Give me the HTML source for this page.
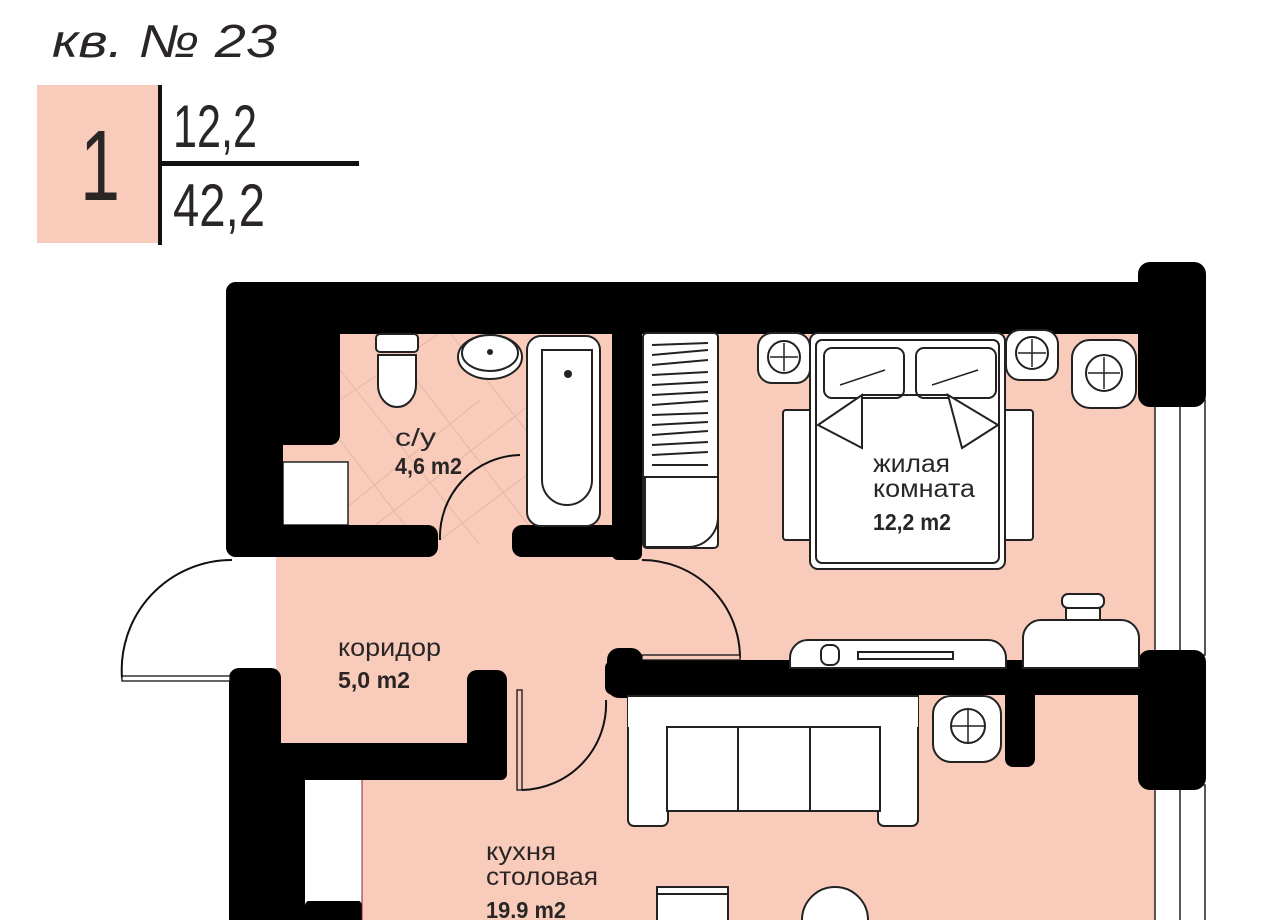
<!DOCTYPE html>
<html><head><meta charset="utf-8"><style>
html,body{margin:0;padding:0;background:#fff;width:1262px;height:920px;overflow:hidden}
svg{display:block}
text{font-family:"Liberation Sans",sans-serif;fill:#2a2626}
</style></head><body>
<svg width="1262" height="920" viewBox="0 0 1262 920" xmlns="http://www.w3.org/2000/svg">
<!-- header -->
<text x="52" y="57" font-style="italic" font-size="46" fill="#111" textLength="225" lengthAdjust="spacingAndGlyphs">кв. № 23</text>
<rect x="37" y="85" width="123" height="158" fill="#f8cbbb"/>
<text x="80" y="200" font-size="100" fill="#111" textLength="40" lengthAdjust="spacingAndGlyphs">1</text>
<rect x="158" y="85" width="4" height="160" fill="#111"/>
<rect x="160" y="161" width="199" height="5" fill="#111"/>
<text x="173" y="147" font-size="60" fill="#111" textLength="84" lengthAdjust="spacingAndGlyphs">12,2</text>
<text x="173" y="226" font-size="60" fill="#111" textLength="92" lengthAdjust="spacingAndGlyphs">42,2</text>

<!-- pink floors -->
<g fill="#f8cbbb">
<rect x="282" y="333" width="330" height="225"/>
<rect x="640" y="333" width="515" height="330"/>
<rect x="276" y="555" width="470" height="190"/>
<rect x="500" y="690" width="655" height="230"/>
<rect x="362" y="778" width="200" height="142"/>
</g>
<g stroke="#e2b0a0" stroke-width="1" opacity="0.8">
<line x1="340" y1="370" x2="480" y2="545"/><line x1="340" y1="440" x2="420" y2="545"/>
<line x1="380" y1="333" x2="540" y2="540"/><line x1="450" y1="333" x2="600" y2="525"/>
<line x1="300" y1="545" x2="480" y2="400"/><line x1="350" y1="545" x2="600" y2="350"/>
<line x1="440" y1="540" x2="600" y2="420"/><line x1="340" y1="400" x2="440" y2="333"/>
</g>
<rect x="283" y="462" width="65" height="63" fill="#fff" stroke="#222" stroke-width="1.5"/>
<g fill="#fff" stroke="#222" stroke-width="1.5">
<rect x="1155" y="400" width="50" height="255"/>
<rect x="1155" y="785" width="50" height="140"/>
</g>
<line x1="1180" y1="400" x2="1180" y2="655" stroke="#222" stroke-width="1.5"/>
<line x1="1180" y1="785" x2="1180" y2="920" stroke="#222" stroke-width="1.5"/>

<!-- walls -->
<g fill="#000">
<rect x="226" y="282" width="934" height="52" rx="10"/>
<rect x="1138" y="262" width="68" height="145" rx="12"/>
<rect x="226" y="282" width="114" height="163" rx="10"/>
<rect x="226" y="282" width="57" height="275" rx="10"/>
<rect x="226" y="525" width="212" height="32" rx="10"/>
<rect x="512" y="525" width="128" height="32" rx="10"/>
<rect x="612" y="300" width="30" height="260" rx="6"/>
<rect x="605" y="660" width="545" height="35" rx="8"/>
<rect x="607" y="648" width="36" height="50" rx="12"/>
<rect x="1138" y="650" width="68" height="140" rx="12"/>
<rect x="1005" y="670" width="30" height="97" rx="8"/>
<rect x="229" y="668" width="52" height="260" rx="10"/>
<rect x="229" y="743" width="278" height="37" rx="6"/>
<rect x="467" y="670" width="40" height="110" rx="10"/>
<rect x="229" y="778" width="76" height="150"/>
<rect x="305" y="900" width="57" height="30" rx="6"/>
</g>
<rect x="305" y="780" width="57" height="121" fill="#fff"/>
<line x1="362" y1="780" x2="362" y2="920" stroke="#8a2a2a" stroke-width="1"/>

<!-- doors -->
<g fill="none" stroke="#111" stroke-width="2">
<path d="M122 678 A110 110 0 0 1 232 560"/>
<path d="M440 540 A82 82 0 0 1 520 455"/>
<path d="M642 560 A98 98 0 0 1 740 658"/>
<path d="M522 790 A86 86 0 0 0 606 700"/>
</g>
<rect x="122" y="676" width="108" height="5" fill="#fff" stroke="#111" stroke-width="1.3"/>
<rect x="642" y="655" width="98" height="5" fill="#f8cbbb" stroke="#111" stroke-width="1.3"/>
<rect x="517" y="690" width="5" height="100" fill="#f8cbbb" stroke="#111" stroke-width="1.3"/>

<!-- bathroom fixtures -->
<g fill="#fff" stroke="#222" stroke-width="2">
<rect x="376" y="334" width="42" height="18" rx="4"/>
<path d="M378 355 h38 v30 a19 22 0 0 1 -38 0 z"/>
<ellipse cx="490" cy="357" rx="32" ry="22"/>
<ellipse cx="490" cy="353" rx="28" ry="18"/>
<rect x="527" y="336" width="73" height="190" rx="14"/>
<path d="M542 350 h50 v130 a25 25 0 0 1 -50 0 z"/>
<rect x="643" y="333" width="75" height="215" rx="4"/>
<path d="M645 477 h73 v40 a30 30 0 0 1 -30 30 h-43 z"/>
</g>
<circle cx="490" cy="352" r="3" fill="#222"/>
<circle cx="568" cy="374" r="4" fill="#222"/>
<g stroke="#222" stroke-width="2">
<line x1="652" y1="345" x2="708" y2="343"/><line x1="652" y1="355" x2="708" y2="350"/>
<line x1="652" y1="365" x2="708" y2="360"/><line x1="652" y1="375" x2="708" y2="372"/>
<line x1="652" y1="385" x2="708" y2="382"/><line x1="652" y1="395" x2="708" y2="392"/>
<line x1="652" y1="405" x2="708" y2="401"/><line x1="652" y1="415" x2="708" y2="413"/>
<line x1="652" y1="425" x2="708" y2="422"/><line x1="652" y1="435" x2="708" y2="431"/>
<line x1="652" y1="445" x2="708" y2="442"/><line x1="652" y1="455" x2="708" y2="452"/>
<line x1="652" y1="465" x2="708" y2="465"/>
</g>

<!-- bedroom -->
<g fill="#fff" stroke="#222" stroke-width="2">
<rect x="783" y="410" width="30" height="130" rx="3"/>
<rect x="1003" y="410" width="30" height="130" rx="3"/>
<rect x="810" y="333" width="195" height="236" rx="8"/>
<rect x="816" y="340" width="183" height="223" rx="6"/>
<rect x="824" y="348" width="80" height="50" rx="8"/>
<rect x="916" y="348" width="80" height="50" rx="8"/>
<path d="M818 425 L862 395 L862 448 Z"/>
<path d="M948 395 L998 425 L962 448 Z"/>
<line x1="862" y1="395" x2="948" y2="395"/>
<rect x="758" y="333" width="52" height="50" rx="14"/><circle cx="784" cy="357" r="16"/>
<rect x="1006" y="330" width="52" height="50" rx="14"/><circle cx="1032" cy="353" r="16"/>
<rect x="1072" y="340" width="64" height="68" rx="18"/><circle cx="1104" cy="373" r="18"/>
</g>
<g stroke="#222" stroke-width="1.5">
<line x1="840" y1="385" x2="885" y2="370"/><line x1="932" y1="385" x2="978" y2="370"/>
<line x1="784" y1="343" x2="784" y2="371"/><line x1="770" y1="357" x2="798" y2="357"/>
<line x1="1032" y1="339" x2="1032" y2="367"/><line x1="1018" y1="353" x2="1046" y2="353"/>
<line x1="1104" y1="357" x2="1104" y2="389"/><line x1="1088" y1="373" x2="1120" y2="373"/>
</g>

<!-- middle furniture -->
<g fill="#fff" stroke="#222" stroke-width="2">
<path d="M790 668 v-10 a18 18 0 0 1 18 -18 h180 a18 18 0 0 1 18 18 v10 z"/>
<rect x="858" y="652" width="95" height="7"/>
<rect x="821" y="645" width="18" height="20" rx="7"/>
<rect x="1062" y="594" width="42" height="14" rx="6"/>
<rect x="1066" y="608" width="34" height="14"/>
<path d="M1023 668 v-30 a18 18 0 0 1 18 -18 h80 a18 18 0 0 1 18 18 v30 z"/>
<rect x="628" y="696" width="290" height="40"/>
<rect x="628" y="696" width="40" height="130" rx="6"/>
<rect x="878" y="696" width="40" height="130" rx="6"/>
<rect x="628" y="696" width="290" height="31" stroke="none"/>
<rect x="933" y="696" width="68" height="66" rx="18"/><circle cx="968" cy="726" r="17"/>
<rect x="657" y="887" width="71" height="40"/>
<circle cx="835" cy="920" r="33"/>
</g>
<line x1="628" y1="696" x2="918" y2="696" stroke="#222" stroke-width="2"/>
<rect x="667" y="727" width="213" height="84" fill="#fff" stroke="#222" stroke-width="2"/>
<line x1="738" y1="727" x2="738" y2="811" stroke="#222" stroke-width="2"/>
<line x1="810" y1="727" x2="810" y2="811" stroke="#222" stroke-width="2"/>
<line x1="968" y1="709" x2="968" y2="743" stroke="#222" stroke-width="1.5"/>
<line x1="951" y1="726" x2="985" y2="726" stroke="#222" stroke-width="1.5"/>
<line x1="657" y1="894" x2="728" y2="894" stroke="#222" stroke-width="2"/>

<!-- labels -->
<text x="395" y="446" font-size="25" textLength="41" lengthAdjust="spacingAndGlyphs">с/у</text>
<text x="395" y="474" font-size="23" font-weight="bold" textLength="67" lengthAdjust="spacingAndGlyphs">4,6 m2</text>
<text x="873" y="472" font-size="25" textLength="77" lengthAdjust="spacingAndGlyphs">жилая</text>
<text x="873" y="497" font-size="25" textLength="102" lengthAdjust="spacingAndGlyphs">комната</text>
<text x="873" y="530" font-size="23" font-weight="bold" textLength="78" lengthAdjust="spacingAndGlyphs">12,2 m2</text>
<text x="338" y="656" font-size="25" textLength="103" lengthAdjust="spacingAndGlyphs">коридор</text>
<text x="338" y="688" font-size="23" font-weight="bold" textLength="72" lengthAdjust="spacingAndGlyphs">5,0 m2</text>
<text x="486" y="860" font-size="25" textLength="70" lengthAdjust="spacingAndGlyphs">кухня</text>
<text x="486" y="885" font-size="25" textLength="112" lengthAdjust="spacingAndGlyphs">столовая</text>
<text x="486" y="918" font-size="23" font-weight="bold" textLength="80" lengthAdjust="spacingAndGlyphs">19.9 m2</text>
</svg>
</body></html>
